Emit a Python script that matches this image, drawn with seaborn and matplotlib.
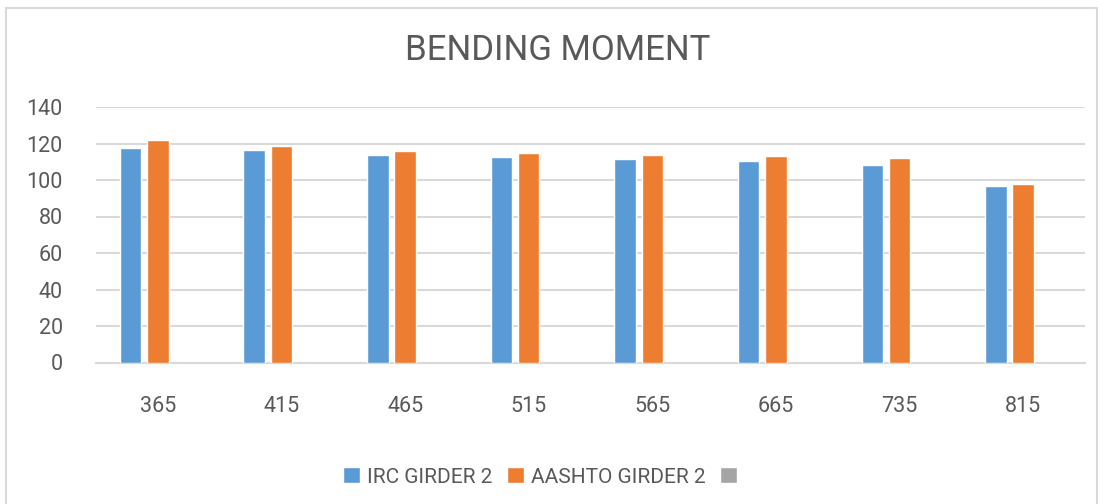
import pandas as pd
import numpy as np
import matplotlib
matplotlib.use("Agg")
import matplotlib.pyplot as plt
import seaborn as sns
from matplotlib.patches import Rectangle

# ==========================================
# DATA
# ==========================================
spans = ["365", "415", "465", "515", "565", "665", "735", "815"]
irc_girder_2 = [117.8, 116.3, 113.9, 112.8, 111.7, 110.6, 108.2, 96.8]
aashto_girder_2 = [122.0, 118.5, 115.9, 114.8, 113.9, 113.2, 112.1, 97.6]
# third (empty) series that only shows up in the legend
empty_series = [np.nan] * len(spans)

series_names = ["IRC GIRDER 2", "AASHTO GIRDER 2", " "]
colors = ["#5B9BD5", "#ED7D31", "#A5A5A5"]
y_ticks = [0, 20, 40, 60, 80, 100, 120, 140]

df = pd.DataFrame({
    "span": spans * 3,
    "series": [series_names[0]] * len(spans) + [series_names[1]] * len(spans) + [series_names[2]] * len(spans),
    "moment": irc_girder_2 + aashto_girder_2 + empty_series,
})

# ==========================================
# STYLE
# ==========================================
sns.set_style("white")
plt.rcParams["font.family"] = ["Roboto", "DejaVu Sans"]
text_gray = "#595959"
grid_gray = "#D9D9D9"

fig = plt.figure(figsize=(11.04, 5.04), dpi=100)
ax = fig.add_axes([96 / 1104, 1 - 362.5 / 504, (1085 - 96) / 1104, (362.5 - 107) / 504])

sns.barplot(data=df, x="span", y="moment", hue="series", order=spans,
            hue_order=series_names, palette=colors, width=0.66, gap=0.21,
            errorbar=None, saturation=1, ax=ax, zorder=3)

ax.set_ylim(0, 140)
ax.set_xlim(-0.5, len(spans) - 0.5)
ax.set_yticks(y_ticks)
ax.yaxis.grid(True, color=grid_gray, linewidth=1.5, zorder=0)
ax.set_axisbelow(True)
for side in ["top", "right", "left"]:
    ax.spines[side].set_visible(False)
ax.spines["bottom"].set_color(grid_gray)
ax.spines["bottom"].set_linewidth(1.5)
ax.tick_params(axis="both", length=0, labelsize=15.5, colors=text_gray)
ax.tick_params(axis="y", pad=24)
ax.tick_params(axis="x", pad=24)
ax.set_xlabel("")
ax.set_ylabel("")

fig.suptitle("BENDING MOMENT", x=0.505, y=1 - 50 / 504, va="center",
             fontsize=25, color=text_gray)

sns.move_legend(ax, "center", bbox_to_anchor=(0.495, 1 - 477 / 504),
                bbox_transform=fig.transFigure, ncol=3, frameon=False,
                title=None, fontsize=15, labelcolor=text_gray,
                handlelength=0.8, handleheight=0.8, handletextpad=0.35,
                columnspacing=0.7)

# chart area border like the spreadsheet frame
fig.patches.append(Rectangle((6 / 1104, -0.05), (1097 - 6) / 1104, 1.05 - 8 / 504,
                             transform=fig.transFigure, fill=False,
                             edgecolor=grid_gray, linewidth=1.5))

fig.savefig("out.png", dpi=100)
plt.close(fig)
